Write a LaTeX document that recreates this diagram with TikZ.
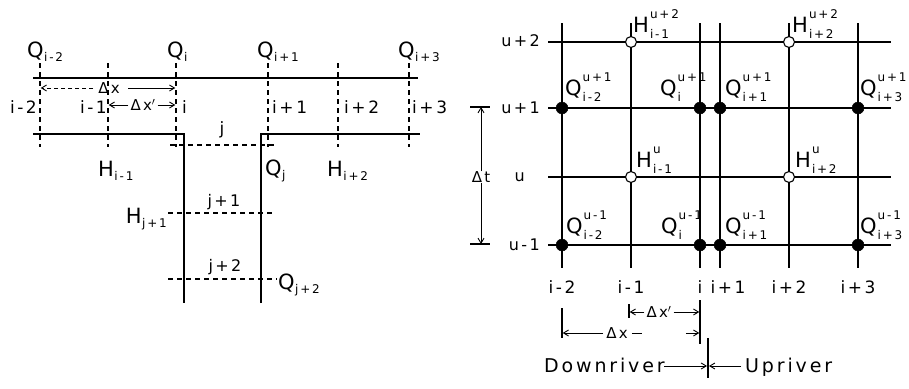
\documentclass[tikz,border=0pt]{standalone}
\usepackage{fontspec}
\setmainfont{DejaVu Sans}[LetterSpace=15]
\usetikzlibrary{arrows.meta}
\newcommand\fs[1]{\fontsize{#1}{#1}\selectfont}
\newcommand\Sb[2]{#1\kern0.5pt\raisebox{-4pt}{\fs{12}#2}}
\newcommand\SbSp[3]{#1\kern1pt\makebox[0pt][l]{\raisebox{14pt}{\fs{12}#3}}\raisebox{-6pt}{\fs{12}#2}}
\tikzset{
  sl/.style={line width=1.3pt},
  ds/.style={line width=1.1pt, dash pattern=on 5pt off 4pt},
  arr/.style={line width=0.9pt, -{Straight Barb[length=5pt,width=6pt]}},
  big/.style={inner sep=0pt, font=\fs{21}, anchor=base west},
  idx/.style={inner sep=0pt, font=\fs{17}},
  sml/.style={inner sep=0pt, font=\fs{15}},
  opn/.style={circle, draw, fill=white, line width=1.1pt, minimum size=11pt, inner sep=0pt},
  fld/.style={circle, draw, fill=black, minimum size=12pt, inner sep=0pt},
}
\begin{document}
\begin{tikzpicture}[x=1pt,y=-1pt]
\useasboundingbox (0,0) rectangle (909,388);
% ---------------- left diagram ----------------
\draw[sl] (33,78) -- (418,78);
\draw[sl] (33,134) -- (184,134) -- (184,303);
\draw[sl] (261,303) -- (261,134) -- (420,134);
\foreach \x in {40,108,176,268,338,409} \draw[ds] (\x,63) -- (\x,147);
\draw[ds] (170,145) -- (274,145);
\draw[ds] (168,213) -- (275,213);
\draw[ds] (168,279) -- (277,279);
% labels
\node[big] (qa) at (27,57) {\Sb{Q}{i-2}};
\node[big] (qb) at (167,57) {\Sb{Q}{i}};
\node[big] (qc) at (257,57) {\Sb{Q}{i+1}};
\node[big] (qd) at (398,57) {\Sb{Q}{i+3}};
\node[idx, anchor=base east] (la) at (37,113) {i-2};
\node[idx, anchor=base east] (lb) at (107,113) {i-1};
\node[idx, anchor=base west] (lc) at (182,113) {i};
\node[idx, anchor=base west] (ld) at (272,113) {i+1};
\node[idx, anchor=base west] (le) at (344,113) {i+2};
\node[idx, anchor=base west] (lf) at (412,113) {i+3};
\node[sml] (dxl) at (109,88) {Δx};
\coordinate (dxa) at (93,88);
\coordinate (dxb) at (128,88);
\draw[arr, dash pattern=on 4pt off 3pt] (dxa) -- (40.7,88);
\draw[arr] (dxb) -- (175.3,88);
\node[sml] (dxpl) at (143,105) {Δx$'$};
\draw[arr] (dxpl.west) ++(-2,0) -- (108.7,105);
\draw[arr] (dxpl.east) ++(2,0) -- (175.3,105);
\node[idx] (jl) at (222,130) {j};
\node[big] (hl) at (98,176) {\Sb{H}{i-1}};
\node[big] (hr) at (327,176) {\Sb{H}{i+2}};
\node[big] (qj) at (265,175) {\Sb{Q}{j}};
\node[idx, font=\fs{16}] (j1) at (224,202) {j+1};
\node[big, anchor=base east] (hj) at (167,223) {\Sb{H}{j+1}};
\node[idx, font=\fs{16}] (j2) at (225,267) {j+2};
\node[big] (qj2) at (278,289) {\Sb{Q}{j+2}};
% ---------------- right diagram ----------------
\foreach \y in {42,108,177,245} \draw[sl] (548,\y) -- (891,\y);
\foreach \x in {562,631,700,720,789,858} \draw[sl] (\x,23) -- (\x,268);
\node[opn] (o1) at (631,42) {};
\node[opn] (o2) at (789,42) {};
\node[opn] (o3) at (631,177) {};
\node[opn] (o4) at (789,177) {};
\foreach \x/\n in {562/a,700/b,720/c,858/d} {
  \node[fld] (f1\n) at (\x,108) {};
  \node[fld] (f2\n) at (\x,245) {};
}
\node[idx, font=\fs{16}, anchor=east] (u2) at (540,41) {u+2};
\node[idx, font=\fs{16}, anchor=east] (u1) at (540,108) {u+1};
\node[idx, font=\fs{16}, anchor=east] (u0) at (525,177) {u};
\node[idx, font=\fs{16}, anchor=east] (um) at (540,245) {u-1};
% delta t
\coordinate (tt) at (481,107);
\coordinate (tb) at (481,244);
\draw[sl] (470,107) -- (490,107);
\draw[sl] (470,244) -- (490,244);
\node[sml] (dt) at (481,177) {Δt};
\draw[arr] (dt.north) -- (tt);
\draw[arr] (dt.south) -- (tb);
% node labels
\node[big] (h1) at (633,32) {\SbSp{H}{i-1}{u+2}};
\node[big] (h2) at (792,32) {\SbSp{H}{i+2}{u+2}};
\node[big] (h3) at (636,167) {\SbSp{H}{i-1}{u}};
\node[big] (h4) at (795,167) {\SbSp{H}{i+2}{u}};
\node[big] (q1) at (565,95) {\SbSp{Q}{i-2}{u+1}};
\node[big] (q2) at (660,95) {\SbSp{Q}{i}{u+1}};
\node[big] (q3) at (725,95) {\SbSp{Q}{i+1}{u+1}};
\node[big] (q4) at (860,95) {\SbSp{Q}{i+3}{u+1}};
\node[big] (q5) at (566,233) {\SbSp{Q}{i-2}{u-1}};
\node[big] (q6) at (661,233) {\SbSp{Q}{i}{u-1}};
\node[big] (q7) at (725,233) {\SbSp{Q}{i+1}{u-1}};
\node[big] (q8) at (860,233) {\SbSp{Q}{i+3}{u-1}};
\node[idx] (b1) at (562,287) {i-2};
\node[idx] (b2) at (631,287) {i-1};
\node[idx] (b3) at (700,287) {i};
\node[idx] (b4) at (728,287) {i+1};
\node[idx] (b5) at (789,287) {i+2};
\node[idx] (b6) at (858,287) {i+3};
% dx dimensions
\draw[sl] (629,304) -- (629,318);
\draw[sl] (700,300) -- (700,344);
\draw[sl] (562,308) -- (562,338);
\node[sml] (rdxp) at (659,312) {Δx$'$};
\draw[arr] (rdxp.west) ++(-2,0) -- (629.7,312);
\draw[arr] (rdxp.east) ++(2,0) -- (699.3,312);
\node[sml] (rdx) at (617,333) {Δx};
\draw[arr] (rdx.west) ++(-3,0) -- (562.7,333);
\draw[arr, dash pattern=on 10pt off 44pt on 20pt] (rdx.east) ++(4,0) -- (699.3,333);
% downriver / upriver
\draw[sl] (708,338) -- (708,378);
\node[inner sep=0pt, font=\fs{19}, anchor=base west] (down) at (544,372) {Downriver};
\node[inner sep=0pt, font=\fs{19}, anchor=base west] (up) at (745,372) {Upriver};
\coordinate (da) at (664,366);
\coordinate (ua) at (741,366);
\draw[arr] (da) -- (707,366);
\draw[arr] (ua) -- (709,366);
\end{tikzpicture}
\end{document}
